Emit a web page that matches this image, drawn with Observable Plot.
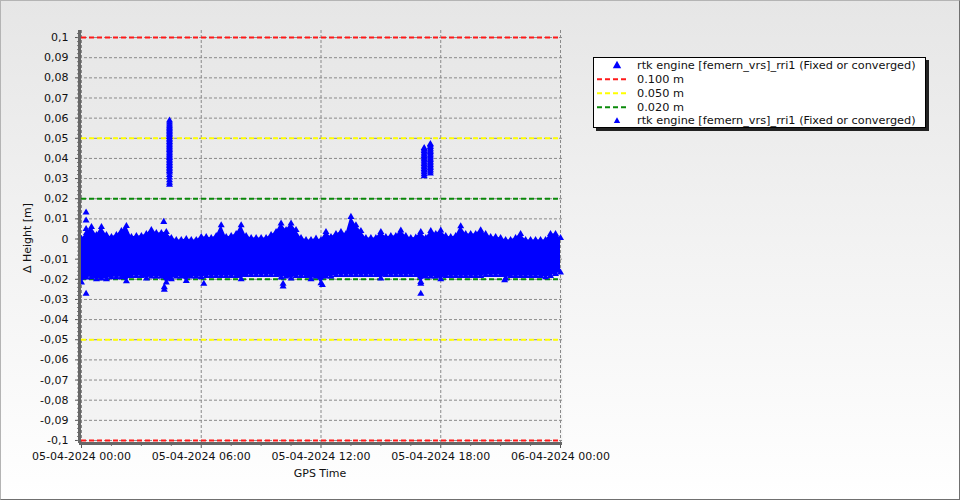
<!DOCTYPE html>
<html>
<head>
<meta charset="utf-8">
<script src="https://cdn.jsdelivr.net/npm/d3@7"></script>
<script src="https://cdn.jsdelivr.net/npm/@observablehq/plot@0.6"></script>
<style>
  body { margin: 0; background: #fff; }
  #wrap { position: relative; width: 960px; height: 500px; overflow: hidden;
          background: linear-gradient(#e6e6e6, #ffffff);
          font-family: "DejaVu Sans", Verdana, sans-serif; font-size: 11px; color: #111; }
  #wrap > svg { position: absolute; left: 0; top: 0; }
  #border { position: absolute; left: 0; top: 0; width: 960px; height: 500px; box-sizing: border-box;
            border: 1px solid #b4b4b4; border-right-color: #707070; border-bottom-color: #707070; pointer-events: none; }
  #ytitle { position: absolute; left: 27px; top: 238px; transform: translate(-50%, -50%) rotate(-90deg);
            white-space: nowrap; font-size: 11px; }
  #xtitle { position: absolute; left: 320px; top: 473px; transform: translate(-50%, -50%);
            white-space: nowrap; font-size: 11px; }
  #legend { position: absolute; left: 593px; top: 57px; width: 331px; height: 69px; background: #fff;
            border: 1px solid #000; box-shadow: 3px 3px 0 #222; }
  #legend svg { position: absolute; left: 0; top: 0; overflow: visible; }
</style>
</head>
<body>
<div id="wrap">
  <div id="ytitle">Δ Height [m]</div>
  <div id="xtitle">GPS Time</div>
  <div id="legend"></div>
  <div id="border"></div>
</div>
<script>
// ---------- data (hours after 05-04-2024 00:00 GPS time, heights in m) ----------
const bandHours = [
  0,0.25,0.5,0.75,1,1.25,1.5,1.75,2,2.25,2.5,2.75,3,3.25,3.5,3.75,4,4.25,4.5,4.75,5,5.25,5.5,5.75,
  6,6.25,6.5,6.75,7,7.25,7.5,7.75,8,8.25,8.5,8.75,9,9.25,9.5,9.75,10,10.25,10.5,10.75,11,11.25,11.5,11.75,
  12,12.25,12.5,12.75,13,13.25,13.5,13.75,14,14.25,14.5,14.75,15,15.25,15.5,15.75,16,16.25,16.5,16.75,17,17.25,17.5,17.75,
  18,18.25,18.5,18.75,19,19.25,19.5,19.75,20,20.25,20.5,20.75,21,21.25,21.5,21.75,22,22.25,22.5,22.75,23,23.25,23.5,23.75,
  24
];
const bandUpper = [
  0.000,0.003,0.006,0.002,0.006,0.002,0.001,0.002,0.004,0.0065,0.001,0.0015,0.0015,0.0025,0.0045,0.003,0.003,0.0035,0.0005,-0.0005,-0.0005,0.000,-0.0005,-0.0005,
  0.001,0.001,0.0005,0.0015,0.0068,0.001,0.0015,0.0025,0.0068,0.0015,0.0005,0.0005,0.0005,0.0005,0.002,0.0035,0.0077,0.0045,0.0077,0.0045,0.0005,-0.0005,-0.0005,0.0002,
  -0.0005,0.0035,0.001,0.0025,0.0035,0.0025,0.011,0.0068,0.004,0.0005,0.0005,0.0005,0.0035,0.001,0.0015,0.0015,0.0042,0.0015,0.0005,0.0007,0.0035,0.0005,0.004,0.0025,
  0.0042,0.0015,0.001,0.0015,0.0063,0.0025,0.0025,0.0025,0.0043,0.0025,0.001,0.001,0.0005,-0.0005,-0.0005,0.0005,0.0025,-0.0005,-0.0005,-0.0005,-0.0005,-0.0005,0.0025,0.0025,
  0.0005
];
const bandLower = [
  -0.0216,-0.0191,-0.019,-0.020,-0.0196,-0.020,-0.019,-0.019,-0.019,-0.021,-0.0183,-0.0183,-0.0183,-0.0196,-0.0186,-0.0186,-0.0186,-0.0216,-0.020,-0.0186,-0.0186,-0.0208,-0.0186,-0.0186,
  -0.019,-0.0183,-0.0183,-0.0183,-0.0183,-0.0183,-0.0183,-0.0183,-0.020,-0.0179,-0.0179,-0.0179,-0.0179,-0.0179,-0.0179,-0.0179,-0.0191,-0.0186,-0.0196,-0.0183,-0.0183,-0.0183,-0.020,-0.0186,
  -0.022,-0.0186,-0.0186,-0.0179,-0.0179,-0.0179,-0.0179,-0.0179,-0.0179,-0.0179,-0.0179,-0.0179,-0.0196,-0.0179,-0.0179,-0.0179,-0.0179,-0.0179,-0.0179,-0.0179,-0.0213,-0.0186,-0.0186,-0.0186,
  -0.020,-0.0183,-0.0183,-0.0183,-0.0183,-0.0183,-0.0183,-0.0183,-0.0183,-0.0179,-0.0179,-0.0179,-0.0179,-0.0196,-0.0183,-0.0183,-0.0183,-0.0183,-0.0183,-0.0183,-0.0183,-0.019,-0.0183,-0.0174,
  -0.0166
];
// isolated points outside the dense band
const outlierHours  = [0.23, 0.23, 0.23, 0.23, 4.12, 4.15, 4.15, 6.13, 10.1, 10.1, 12.07, 17.0, 17.0, 21.2];
const outlierValues = [0.0132, 0.0092, 0.005, -0.0272, 0.0085, -0.0239, -0.0252, -0.0222, -0.0222, -0.0235, -0.0228, -0.0222, -0.0272, -0.0205];
// the two excursions above the 0.02 m line
const burst1Hour = 4.41;
const burst1Values = [0.0588,0.0578,0.0568,0.0560,0.0552,0.0545,0.0538,0.0530,0.0522,0.0515,0.0507,0.0498,0.0490,0.0482,0.0474,0.0466,0.0458,0.0450,0.0442,0.0434,0.0426,0.0418,0.0410,0.0402,0.0394,0.0386,0.0378,0.0370,0.0362,0.0354,0.0346,0.0338,0.0330,0.0318,0.0305,0.0292,0.0280,0.0270];
const burst2aHour = 17.17;
const burst2aValues = [0.0452,0.0445,0.0437,0.0428,0.0420,0.0412,0.0404,0.0396,0.0388,0.0380,0.0372,0.0364,0.0356,0.0348,0.0340,0.0332,0.0322,0.0312];
const burst2bHour = 17.48;
const burst2bValues = [0.0472,0.0465,0.0457,0.0448,0.0440,0.0432,0.0424,0.0416,0.0408,0.0400,0.0392,0.0384,0.0376,0.0368,0.0360,0.0352,0.0344,0.0335,0.0325];
// thresholds
const redLevels = [0.1, -0.1];
const yellowLevels = [0.05, -0.05];
const greenLevels = [0.02, -0.02];
// tick labels
const yTicks = [0.1,0.09,0.08,0.07,0.06,0.05,0.04,0.03,0.02,0.01,0,-0.01,-0.02,-0.03,-0.04,-0.05,-0.06,-0.07,-0.08,-0.09,-0.1];
const xTickHours = [0, 6, 12, 18, 24];
const xMinorHours = [1.5, 3, 4.5, 7.5, 9, 10.5, 13.5, 15, 16.5, 19.5, 21, 22.5];
const seriesName = "rtk engine [femern_vrs]_rri1 (Fixed or converged)";
const legendLabels = [seriesName, "0.100 m", "0.050 m", "0.020 m", seriesName];

// ---------- build ----------
const BASE = Date.UTC(2024, 3, 5);
const T = h => new Date(BASE + h * 3600000);
const band = bandHours.map((h, i) => ({t: T(h), hi: bandUpper[i], lo: bandLower[i]}));
const pts = [];
band.forEach(d => { pts.push({t: d.t, v: d.hi}); pts.push({t: d.t, v: d.lo}); });
outlierHours.forEach((h, i) => pts.push({t: T(h), v: outlierValues[i]}));
burst1Values.forEach(v => pts.push({t: T(burst1Hour), v}));
burst2aValues.forEach(v => pts.push({t: T(burst2aHour), v}));
burst2bValues.forEach(v => pts.push({t: T(burst2bHour), v}));

const yFmt = d => d === 0 ? "0" : d.toFixed(2).replace(/0$/, "").replace(".", ",");
const xFmt = d3.utcFormat("%d-%m-%Y %H:%M");
const x0 = T(0), x1 = T(24);
const refRule = (levels, color) => Plot.ruleY(levels, {x1: x0, x2: x1, stroke: color, strokeWidth: 2, strokeDasharray: "5,3"});

const svg = Plot.plot({
  width: 960, height: 500,
  marginLeft: 79, marginRight: 398, marginTop: 30, marginBottom: 57,
  style: {background: "transparent", fontFamily: "'DejaVu Sans', Verdana, sans-serif", fontSize: "11px", color: "#111", overflow: "visible"},
  x: {type: "utc", domain: [T(-0.1), T(24.1)]},
  y: {domain: [-0.1015, 0.1035]},
  marks: [
    Plot.frame({fill: "url(#plotbg)", stroke: "none"}),
    Plot.gridY({ticks: yTicks, stroke: "#8a8a8a", strokeOpacity: 1, strokeDasharray: "3,2"}),
    Plot.gridX({ticks: xTickHours.map(T), stroke: "#8a8a8a", strokeOpacity: 1, strokeDasharray: "3,2"}),
    refRule(redLevels, "#ff1a1a"),
    refRule(yellowLevels, "#ffff00"),
    refRule(greenLevels, "#0a8a0a"),
    Plot.areaY(band, {x: "t", y1: "lo", y2: "hi", fill: "#0000ff", curve: "linear"}),
    Plot.dot(pts, {x: "t", y: "v", symbol: "triangle", r: 2.6, fill: "#0000ff", stroke: "none"}),
    Plot.axisY({ticks: yTicks, tickFormat: yFmt, tickSize: 4, tickPadding: 7, label: null, stroke: "#555"}),
    Plot.axisY({interval: 0.002, tickFormat: () => "", tickSize: 2, label: null, stroke: "#777"}),
    Plot.axisX({ticks: xTickHours.map(T), tickFormat: xFmt, tickSize: 5, tickPadding: 4, label: null, stroke: "#555"}),
    Plot.axisX({ticks: xMinorHours.map(T), tickFormat: () => "", tickSize: 3, label: null, stroke: "#777"}),
    Plot.ruleX([T(-0.1)], {stroke: "#666", strokeWidth: 3}),
    Plot.ruleY([-0.1015], {stroke: "#666", strokeWidth: 3})
  ]
});
const ns = "http://www.w3.org/2000/svg";
const defs = document.createElementNS(ns, "defs");
defs.innerHTML = '<linearGradient id="plotbg" x1="0" y1="0" x2="0" y2="1"><stop offset="0" stop-color="#e7e7e7"/><stop offset="1" stop-color="#f4f4f4"/></linearGradient>';
svg.insertBefore(defs, svg.firstChild);
const wrap = document.getElementById("wrap");
wrap.insertBefore(svg, wrap.firstChild);

// ---------- legend ----------
const rows = [7, 21.3, 35.3, 49.3, 62.5];
const swatches = [
  {type: "tri", size: 4.2},
  {type: "line", color: "#ff1a1a"},
  {type: "line", color: "#ffff00"},
  {type: "line", color: "#0a8a0a"},
  {type: "tri", size: 3.2}
];
let lg = `<svg width="331" height="69" xmlns="${ns}" style="font-family:'DejaVu Sans',Verdana,sans-serif;font-size:11.3px">`;
legendLabels.forEach((label, i) => {
  const y = rows[i], s = swatches[i];
  if (s.type === "tri") {
    const a = s.size;
    lg += `<path d="M${23},${y - a} L${23 + a},${y + a * 0.75} L${23 - a},${y + a * 0.75} Z" fill="#0000ff"/>`;
  } else {
    lg += `<line x1="3" x2="34" y1="${y}" y2="${y}" stroke="${s.color}" stroke-width="2" stroke-dasharray="5,3"/>`;
  }
  lg += `<text x="43" y="${y}" dy="0.35em" fill="#111">${label}</text>`;
});
lg += `</svg>`;
document.getElementById("legend").innerHTML = lg;
</script>
</body>
</html>
